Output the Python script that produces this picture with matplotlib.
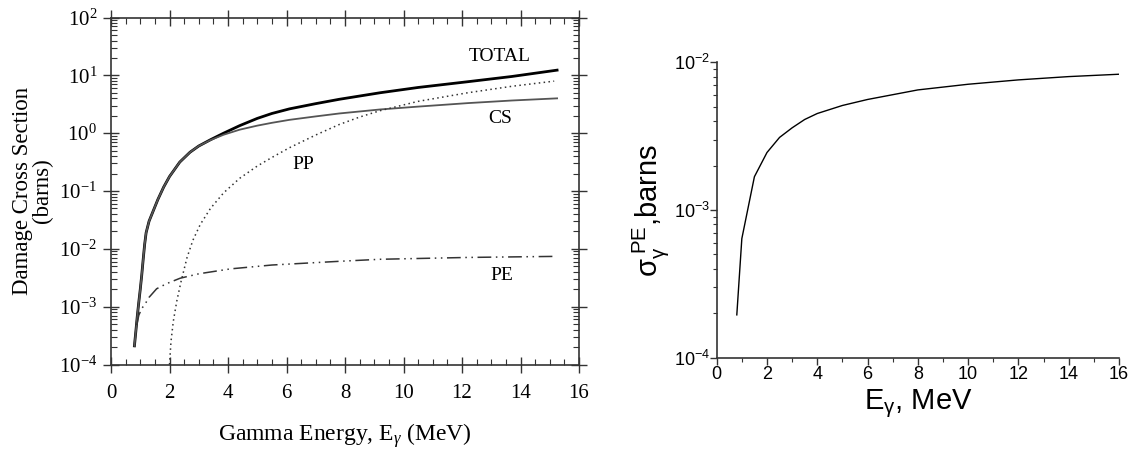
import numpy as np
import matplotlib
matplotlib.use("Agg")
import matplotlib.pyplot as plt
from matplotlib.ticker import LogLocator, MultipleLocator, FixedLocator, FixedFormatter, NullFormatter

plt.rcParams["mathtext.fontset"] = "custom"
plt.rcParams["mathtext.rm"] = "Liberation Serif"
plt.rcParams["mathtext.it"] = "Liberation Serif:italic"
plt.rcParams["mathtext.sf"] = "Liberation Sans"

# --- left panel: damage cross sections (barns) vs gamma energy (MeV) ---
total_e = [0.8, 0.85, 0.9, 0.95, 1.0, 1.05, 1.1, 1.15, 1.2, 1.3, 1.4, 1.6, 1.8, 2.0, 2.35,
           2.7, 3.0, 3.4, 3.85, 4.4, 5.0, 5.5, 6.1, 7.0, 7.8, 9.2, 10.5, 12.2, 13.7, 15.25]
total_s = [2.1e-4, 3.8e-4, 7e-4, 1.2e-3, 2.0e-3, 3.5e-3, 6.6e-3, 0.012, 0.019, 0.030, 0.040,
           0.071, 0.117, 0.178, 0.316, 0.468, 0.60, 0.77, 1.0, 1.35, 1.8, 2.19, 2.63, 3.24,
           3.85, 5.0, 6.17, 7.76, 9.55, 12.3]

cs_e = [0.8, 0.85, 0.9, 0.95, 1.0, 1.05, 1.1, 1.15, 1.2, 1.3, 1.4, 1.6, 1.8, 2.0, 2.35,
        2.7, 3.0, 3.4, 3.85, 4.4, 5.0, 5.5, 6.1, 7.0, 7.8, 9.2, 10.5, 12.2, 13.7, 15.25]
cs_s = [2.1e-4, 3.8e-4, 7e-4, 1.2e-3, 2.0e-3, 3.5e-3, 6.6e-3, 0.012, 0.019, 0.030, 0.040,
        0.071, 0.117, 0.178, 0.316, 0.468, 0.60, 0.76, 0.94, 1.15, 1.35, 1.51, 1.70, 1.95,
        2.19, 2.57, 2.88, 3.31, 3.67, 4.0]

pp_e = [2.0, 2.05, 2.13, 2.25, 2.4, 2.6, 2.8, 3.05, 3.4, 3.85, 4.4, 5.0, 5.5, 6.1, 7.0,
        7.8, 8.5, 9.2, 10.5, 12.2, 13.7, 15.15]
pp_s = [1e-4, 2.5e-4, 5.6e-4, 1.26e-3, 2.8e-3, 7.1e-3, 0.0141, 0.0263, 0.050, 0.093, 0.166,
        0.27, 0.38, 0.56, 0.93, 1.41, 1.9, 2.45, 3.55, 5.0, 6.46, 7.94]

pe_e = [0.88, 0.95, 1.05, 1.16, 1.3, 1.56, 1.9, 2.36, 3.0, 4.08, 5.5, 7.84, 9.21, 12.2, 15.15]
pe_s = [4.8e-4, 7.1e-4, 9.3e-4, 1.1e-3, 1.45e-3, 2.04e-3, 2.5e-3, 3.1e-3, 3.7e-3, 4.5e-3,
        5.25e-3, 6.1e-3, 6.6e-3, 7.1e-3, 7.4e-3]

# --- right panel: photoelectric cross section ---
pe2_e = [0.8, 1.0, 1.5, 2.0, 2.5, 3.0, 3.5, 4.0, 5.0, 6.0, 8.0, 10.0, 12.0, 14.0, 16.0]
pe2_s = [1.95e-4, 6.4e-4, 1.68e-3, 2.45e-3, 3.1e-3, 3.6e-3, 4.1e-3, 4.5e-3, 5.1e-3, 5.6e-3,
         6.5e-3, 7.1e-3, 7.6e-3, 8.0e-3, 8.3e-3]

fig = plt.figure(figsize=(11.34, 4.5), dpi=100)

# ---------- left ----------
ax = fig.add_axes([0.0979, 0.19, 0.4127, 0.7711])
serif = "Liberation Serif"
ax.plot(total_e, total_s, color="black", lw=2.0)
ax.plot(cs_e, cs_s, color="#555555", lw=1.3)
ax.plot(pp_e, pp_s, color="#333333", lw=1.1, linestyle=(0, (1, 2.2)))
ax.plot(pe_e, pe_s, color="#333333", lw=1.1, linestyle=(0, (9, 3, 1, 3, 1, 3)))
ax.set_yscale("log")
ax.set_xlim(0, 16)
ax.set_ylim(1e-4, 1e2)
ax.xaxis.set_major_locator(MultipleLocator(2))
ax.xaxis.set_minor_locator(MultipleLocator(0.5))
ax.yaxis.set_major_locator(LogLocator(base=10, numticks=10))
ax.yaxis.set_minor_locator(LogLocator(base=10, subs=np.arange(2, 10), numticks=20))
ax.yaxis.set_minor_formatter(NullFormatter())
ax.tick_params(which="major", direction="inout", length=12, width=1.0, color="#333333",
               top=True, right=True, labelsize=15)
ax.tick_params(which="minor", direction="in", length=4, width=0.8, color="#333333",
               top=True, right=True)
for lab in ax.get_xticklabels() + ax.get_yticklabels():
    lab.set_fontfamily(serif)
ax.tick_params(axis="x", pad=8)
ax.tick_params(axis="y", pad=4)
for s in ax.spines.values():
    s.set_color("#333333")
    s.set_linewidth(1.2)
ax.set_ylabel("Damage Cross Section\n(barns)", family=serif, fontsize=16.5, linespacing=0.95, labelpad=4)
ax.set_xlabel(r"Gamma Energy, E$_\gamma$ (MeV)", family=serif, fontsize=17, labelpad=13)
txt = dict(family=serif, fontsize=14, ha="center", va="center")
ax.text(13.3, 21, "TOTAL", **txt)
ax.text(13.32, 1.8, "CS", **txt)
ax.text(6.57, 0.29, "PP", **txt)
ax.text(13.36, 3.5e-3, "PE", **txt)

# ---------- right ----------
ax2 = fig.add_axes([0.632, 0.2051, 0.3548, 0.6565])
sans = "Liberation Sans"
ax2.plot(pe2_e, pe2_s, color="black", lw=1.0)
ax2.set_yscale("log")
ax2.set_xlim(0, 16)
ax2.set_ylim(1e-4, 1e-2)
ax2.xaxis.set_major_locator(MultipleLocator(2))
ax2.xaxis.set_minor_locator(MultipleLocator(1))
ax2.yaxis.set_major_locator(FixedLocator([1e-4, 1e-3, 1e-2]))
ax2.yaxis.set_major_formatter(FixedFormatter([r"$\mathsf{10^{-4}}$", r"$\mathsf{10^{-3}}$", r"$\mathsf{10^{-2}}$"]))
ax2.yaxis.set_minor_locator(LogLocator(base=10, subs=np.arange(2, 10), numticks=20))
ax2.yaxis.set_minor_formatter(NullFormatter())
ax2.spines["top"].set_visible(False)
ax2.spines["right"].set_visible(False)
for s in ("left", "bottom"):
    ax2.spines[s].set_linewidth(1.2)
    ax2.spines[s].set_color("#333333")
ax2.tick_params(which="major", direction="out", length=5, width=1.0, labelsize=13, pad=1, color="#333333")
ax2.tick_params(which="minor", direction="out", length=3, width=0.8, color="#333333")
ax2.tick_params(axis="y", which="major", pad=0)
for lab in ax2.get_xticklabels():
    lab.set_fontfamily(sans)
ax2.set_xlabel(r"E$_{\mathsf{\gamma}}$, MeV", family=sans, fontsize=21, labelpad=3)
ax2.set_ylabel(r"$\mathsf{\sigma_{\gamma}^{\ PE}}$,barns", family=sans, fontsize=21, labelpad=2)

fig.savefig("out.png", dpi=100)
